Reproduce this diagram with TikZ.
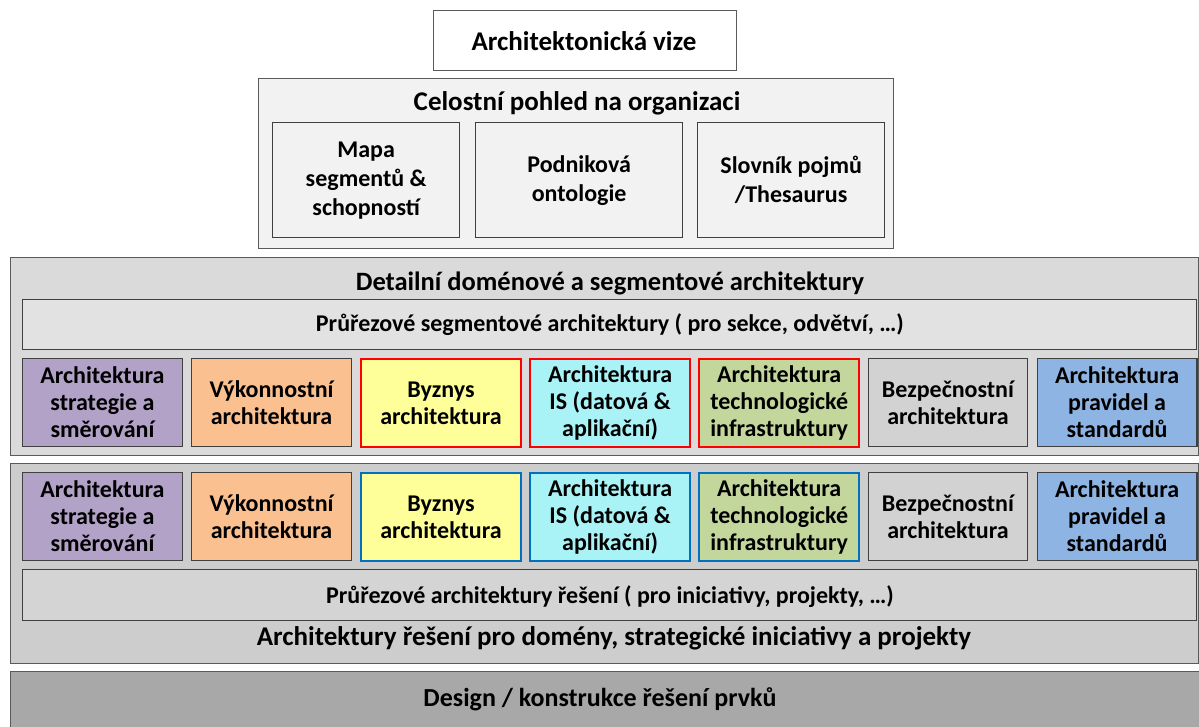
\documentclass[tikz,border=0pt]{standalone}
\usepackage{fontspec}
\setmainfont{Carlito}
\definecolor{bordc}{HTML}{404040}
\definecolor{outerc}{HTML}{5A5A5A}
\definecolor{celfill}{HTML}{F2F2F2}
\definecolor{detfill}{HTML}{DADADA}
\definecolor{segfill}{HTML}{E2E2E2}
\definecolor{resfill}{HTML}{CDCDCD}
\definecolor{resinner}{HTML}{D4D4D4}
\definecolor{desfill}{HTML}{A8A8A8}
\definecolor{cpurple}{HTML}{B3A2C7}
\definecolor{corange}{HTML}{FAC090}
\definecolor{cyellow}{HTML}{FFFF99}
\definecolor{ccyan}{HTML}{A9F3F7}
\definecolor{cgreen}{HTML}{C3D69B}
\definecolor{cgray}{HTML}{D2D2D2}
\definecolor{cblue}{HTML}{8EB4E3}
\definecolor{cred}{HTML}{FF0000}
\definecolor{cbl}{HTML}{0070C0}
\tikzset{
  panel/.style={draw=outerc, line width=1.4pt, inner sep=0pt, anchor=north west},
  bigtxt/.style={font=\bfseries\fontsize{27}{30}\selectfont, inner sep=0pt},
  midtxt/.style={font=\bfseries\fontsize{24}{27}\selectfont, inner sep=0pt},
  cell/.style={draw=bordc, line width=1.3pt, inner sep=0pt, anchor=north west,
    minimum width=159.6pt, minimum height=88pt, align=center,
    font=\bfseries\fontsize{24}{27}\selectfont},
  redcell/.style={cell, draw=cred, line width=2pt},
  bluecell/.style={cell, draw=cbl, line width=2pt},
  inbox/.style={draw=bordc, line width=1.3pt, inner sep=0pt, anchor=north west,
    minimum height=115pt, align=center, fill=celfill,
    font=\bfseries\fontsize{24}{29}\selectfont},
}
\begin{document}
\begin{tikzpicture}[x=1pt,y=-1pt]
\useasboundingbox (0,0) rectangle (1199,727);
\clip (0,0) rectangle (1199,727);
\fill[white] (0,0) rectangle (1199,727);
% top
\node[panel, fill=white, minimum width=303pt, minimum height=60pt] (vize) at (433,10) {};
\node[bigtxt] (vizet) at (584,41) {Architektonická vize};
\node[panel, fill=celfill, minimum width=635pt, minimum height=170pt] (cel) at (258,78) {};
\node[bigtxt] (celt) at (577,103) {Celostní pohled na organizaci};
\node[inbox, minimum width=187pt] (mapa) at (272,122) {Mapa\\segmentů \&\\schopností};
\node[inbox, minimum width=207pt] (onto) at (475,122) {Podniková\\ontologie};
\node[inbox, minimum width=187pt] (slov) at (697,122) {Slovník pojmů\\/Thesaurus};
% detailni
\node[panel, fill=detfill, minimum width=1188pt, minimum height=198pt] (det) at (10,257) {};
\node[font=\bfseries\fontsize{26.5}{30}\selectfont, inner sep=0pt] (dett) at (610,283) {Detailní doménové a segmentové architektury};
\node[panel, draw=bordc, line width=1.3pt, fill=segfill, minimum width=1174pt, minimum height=50pt] (seg) at (22,299) {};
\node[midtxt] (segt) at (610,325) {Průřezové segmentové architektury ( pro sekce, odvětví, …)};
\node[cell, fill=cpurple] (a1) at (22,358) {Architektura\\strategie a\\směrování};
\node[cell, fill=corange] (a2) at (191.1,358) {Výkonnostní\\architektura};
\node[redcell, fill=cyellow] (a3) at (360.2,358) {Byznys\\architektura};
\node[redcell, fill=ccyan] (a4) at (529.3,358) {Architektura\\IS (datová \&\\aplikační)};
\node[redcell, fill=cgreen] (a5) at (698.4,358) {Architektura\\technologické\\infrastruktury};
\node[cell, fill=cgray] (a6) at (867.5,358) {Bezpečnostní\\architektura};
\node[cell, fill=cblue] (a7) at (1036.6,358) {Architektura\\pravidel a\\standardů};
% reseni
\node[panel, fill=resfill, minimum width=1188pt, minimum height=200pt] (res) at (10,463) {};
\node[cell, fill=cpurple] (b1) at (22,472) {Architektura\\strategie a\\směrování};
\node[cell, fill=corange] (b2) at (191.1,472) {Výkonnostní\\architektura};
\node[bluecell, fill=cyellow] (b3) at (360.2,472) {Byznys\\architektura};
\node[bluecell, fill=ccyan] (b4) at (529.3,472) {Architektura\\IS (datová \&\\aplikační)};
\node[bluecell, fill=cgreen] (b5) at (698.4,472) {Architektura\\technologické\\infrastruktury};
\node[cell, fill=cgray] (b6) at (867.5,472) {Bezpečnostní\\architektura};
\node[cell, fill=cblue] (b7) at (1036.6,472) {Architektura\\pravidel a\\standardů};
\node[panel, draw=bordc, line width=1.3pt, fill=resinner, minimum width=1174pt, minimum height=51pt] (rseg) at (22,569) {};
\node[midtxt] (rsegt) at (610,597) {Průřezové architektury řešení ( pro iniciativy, projekty, …)};
\node[bigtxt] (rest) at (614,638) {Architektury řešení pro domény, strategické iniciativy a projekty};
% design
\node[panel, fill=desfill, minimum width=1200pt, minimum height=80pt] (des) at (10,671) {};
\node[font=\bfseries\fontsize{26}{30}\selectfont, inner sep=0pt] (dest) at (600,699) {Design / konstrukce řešení prvků};
\end{tikzpicture}
\end{document}
